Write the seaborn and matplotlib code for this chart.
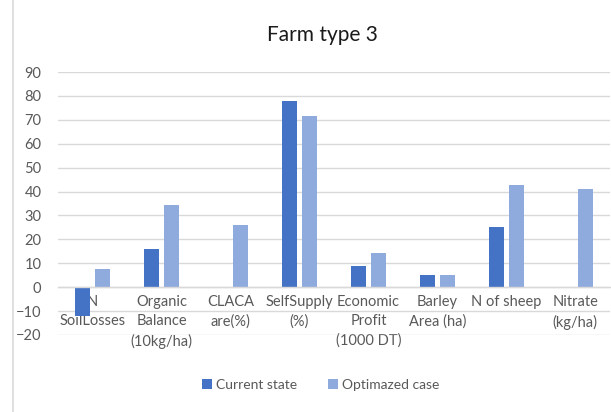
import matplotlib
matplotlib.use("Agg")
import matplotlib.pyplot as plt
from matplotlib.lines import Line2D
from matplotlib.patches import Patch
import seaborn as sns
import pandas as pd

categories = ["N\nSoilLosses", "Organic\nBalance\n(10kg/ha)", "CLACA\nare(%)", "SelfSupply\n(%)",
              "Economic\nProfit\n(1000 DT)", "Barley\nArea (ha)", "N of sheep", "Nitrate\n(kg/ha)"]
current_state = [-12, 16, 0, 78, 8.7, 5, 25, 0]
optimized_case = [7.5, 34.3, 26.2, 71.7, 14.2, 5, 42.7, 41]
series_names = ["Current state", "Optimazed case"]
colors = ["#4472C4", "#8FAADC"]
yticks = list(range(-20, 91, 10))

df = pd.DataFrame({
    "category": categories * 2,
    "value": current_state + optimized_case,
    "series": [series_names[0]] * len(categories) + [series_names[1]] * len(categories),
})

sns.set_style("white")
plt.rcParams["font.family"] = ["Lato", "DejaVu Sans"]

fig = plt.figure(figsize=(6.11, 4.12), dpi=100)
ax = fig.add_axes([0.095, 0.187, 0.903, 0.638])

sns.barplot(data=df, x="category", y="value", hue="series", order=categories,
            hue_order=series_names, palette=colors, width=0.58, gap=0.24,
            saturation=1, ax=ax, legend=False, linewidth=0)

ax.set_ylim(-20, 90)
ax.set_yticks(yticks)
ax.set_xlim(-0.5, len(categories) - 0.5)
ax.grid(axis="y", color="#D9D9D9", linewidth=1)
ax.set_axisbelow(True)
for side in ["top", "right", "left"]:
    ax.spines[side].set_visible(False)
ax.spines["bottom"].set_position(("data", 0))
ax.spines["bottom"].set_color("#D9D9D9")
ax.spines["bottom"].set_linewidth(1)
ax.tick_params(axis="both", length=0, labelsize=10.5, colors="#595959")
ax.tick_params(axis="y", pad=12)
ax.tick_params(axis="x", pad=6)
for lbl in ax.get_xticklabels():
    lbl.set_horizontalalignment("center")
    lbl.set_linespacing(1.45)
ax.set_xlabel("")
ax.set_ylabel("")

fig.text(0.527, 0.915, "Farm type 3", ha="center", va="center", fontsize=15, color="#1a1a1a")

# chart frame edge on the left
fig.add_artist(Line2D([0.021, 0.021], [0.0, 1.0], color="#D9D9D9", linewidth=1.2, transform=fig.transFigure))

handles = [Patch(facecolor=c, edgecolor="none") for c in colors]
fig.legend(handles, series_names, loc="center", bbox_to_anchor=(0.525, 0.066), ncol=2,
           frameon=False, fontsize=10, handlelength=0.7, handleheight=0.7,
           handletextpad=0.3, columnspacing=2.2, labelcolor="#595959")

fig.savefig("out.png", dpi=100)
